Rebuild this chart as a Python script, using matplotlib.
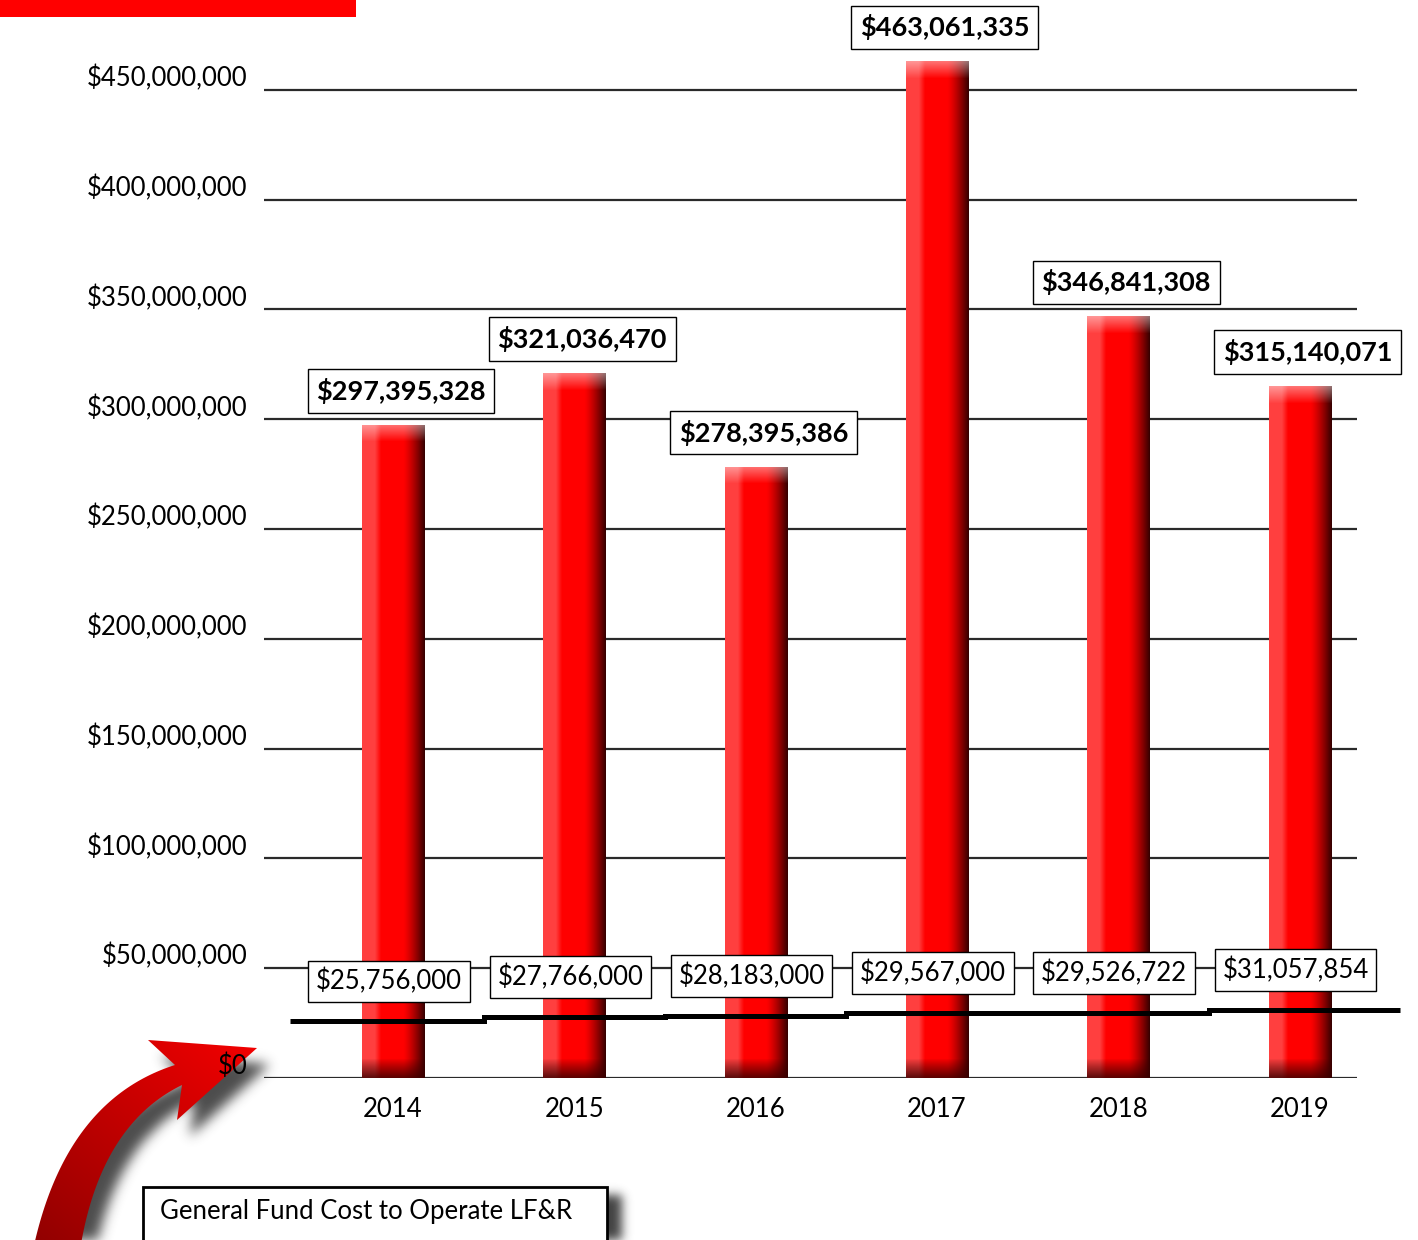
import numpy as np
import matplotlib
matplotlib.use("Agg")
import matplotlib.pyplot as plt
from matplotlib.patches import Rectangle, Polygon
from matplotlib.path import Path
from matplotlib.transforms import ScaledTranslation
from matplotlib.ticker import FuncFormatter

# ---- data ----
years = ["2014", "2015", "2016", "2017", "2018", "2019"]
total_cost = [297395328, 321036470, 278395386, 463061335, 346841308, 315140071]
general_fund = [25756000, 27766000, 28183000, 29567000, 29526722, 31057854]
y_ticks = [0, 50e6, 100e6, 150e6, 200e6, 250e6, 300e6, 350e6, 400e6, 450e6]
legend_text = "General Fund Cost to Operate LF&R"

W, H, DPI = 1418, 1240, 100
plt.rcParams['font.family'] = ['Lato', 'DejaVu Sans']
FS = 18.5

fig = plt.figure(figsize=(W / DPI, H / DPI), dpi=DPI)
fig.patch.set_facecolor('white')


def fx(px):
    return px / W


def fy(py):
    return 1 - py / H


# ---- main chart ----
ax = fig.add_axes([fx(264), fy(1078), (1357 - 264) / W, (1078 - 46) / H], zorder=2)
ax.patch.set_visible(False)
XLIM, YLIM = (-0.711, 5.317), (0, 470e6)
ax.set_xlim(*XLIM)
ax.set_ylim(*YLIM)
for s in ax.spines.values():
    s.set_visible(False)

ax.set_yticks(y_ticks)
ax.yaxis.set_major_formatter(FuncFormatter(lambda v, p: f"${v:,.0f}"))
ax.yaxis.grid(True, color='#2a2a2a', lw=1.6)
ax.set_axisbelow(True)
ax.tick_params(axis='y', length=0, pad=12, labelsize=FS, labelcolor='black')
x = np.arange(len(years))
ax.set_xticks(x, years)
ax.tick_params(axis='x', length=0, pad=14, labelsize=FS)

# lift the value labels so they sit above their gridline
shift = ScaledTranslation(0, 14 / DPI, fig.dpi_scale_trans)
for lbl in ax.get_yticklabels():
    lbl.set_transform(lbl.get_transform() + shift)


def bar_texture(h_px, w_px):
    """Glossy red column shading: light left edge, dark right edge, lit top, shaded base."""
    u = np.linspace(0, 1, w_px)
    base = np.zeros((w_px, 3))
    base[:, 0] = 1.0
    light = np.clip((0.30 - u) / 0.10, 0, 1)
    base[:, 1] += 0.25 * light
    base[:, 2] += 0.25 * light
    dark = np.clip((u - 0.66) / 0.34, 0, 1) ** 1.3
    base[:, 0] *= (1 - 0.78 * dark)
    img = np.repeat(base[None, :, :], h_px, axis=0)
    t = np.arange(h_px)[:, None, None].astype(float)
    # lit top cap
    f = 0.45 * np.clip(1 - t / 17.0, 0, 1)
    img = img * (1 - f) + f
    # shaded base
    g = 0.85 * np.clip((t - (h_px - 20)) / 20.0, 0, 1) ** 0.9
    img = img * (1 - g) + np.array([0.22, 0.0, 0.0]) * g
    return np.clip(img, 0, 1)


bars = ax.bar(x, total_cost, width=0.342, color='#ff0000', zorder=2)
for rect, v in zip(bars, total_cost):
    x0, w = rect.get_x(), rect.get_width()
    p0 = ax.transData.transform((x0, 0))
    p1 = ax.transData.transform((x0 + w, v))
    w_px = max(int(round(p1[0] - p0[0])), 2)
    h_px = max(int(round(p1[1] - p0[1])), 2)
    im = ax.imshow(bar_texture(h_px, w_px), extent=(x0, x0 + w, 0, v),
                   aspect='auto', origin='upper', zorder=2.1, interpolation='bilinear')
    im.set_clip_path(rect)

# stepped general fund line
edges = np.concatenate([[-0.568], x[:-1] + 0.5, [5.554]])
ax.stairs(general_fund, edges, baseline=None, color='black', lw=3.6,
          zorder=3, clip_on=False)

for i, v in enumerate(total_cost):
    ax.annotate(f"${v:,.0f}", xy=(i, v), xytext=(8, 34), textcoords='offset pixels',
                ha='center', va='center', fontsize=19.5, fontweight='bold', zorder=5,
                bbox=dict(boxstyle='square,pad=0.32', fc='white', ec='black', lw=1))

for i, v in enumerate(general_fund):
    ax.annotate(f"${v:,.0f}", xy=(i, v), xytext=(-4, 40), textcoords='offset pixels',
                ha='center', va='center', fontsize=FS, zorder=5,
                bbox=dict(boxstyle='square,pad=0.3', fc='white', ec='black', lw=1))

ax.set_xlim(*XLIM)
ax.set_ylim(*YLIM)

# ---- decorations in pixel space ----
ov = fig.add_axes([0, 0, 1, 1], zorder=1)
ov.set_xlim(0, W)
ov.set_ylim(H, 0)
ov.axis('off')

ov.add_patch(Rectangle((0, 0), 356, 17, fc='#ff0000', ec='none'))


def qbez(p0, c, p2, n=60):
    t = np.linspace(0, 1, n)[:, None]
    p0, c, p2 = map(np.asarray, (p0, c, p2))
    return (1 - t) ** 2 * p0 + 2 * (1 - t) * t * c + t ** 2 * p2


def blurred_mask(path, x0, x1, y0, y1, dx, dy, sigma):
    xs = np.arange(x0, x1) + 0.5
    ys = np.arange(y0, y1) + 0.5
    X, Y = np.meshgrid(xs - dx, ys - dy)
    m = path.contains_points(np.column_stack([X.ravel(), Y.ravel()])).reshape(X.shape)
    m = m.astype(float)
    r = int(3 * sigma)
    k = np.exp(-0.5 * (np.arange(-r, r + 1) / sigma) ** 2)
    k /= k.sum()
    m = np.apply_along_axis(lambda a: np.convolve(a, k, mode='same'), 1, m)
    m = np.apply_along_axis(lambda a: np.convolve(a, k, mode='same'), 0, m)
    return m


def draw_shadow(mask, x0, x1, y0, y1, alpha=0.85, z=1):
    rgba = np.zeros(mask.shape + (4,))
    rgba[..., :3] = 0.18
    rgba[..., 3] = np.clip(mask, 0, 1) * alpha
    ov.imshow(rgba, extent=(x0, x1, y1, y0), origin='upper', aspect='auto',
              interpolation='bilinear', zorder=z)


# curved pointer arrow
outer = qbez((33, 1250), (65, 1100), (175, 1065))
inner = qbez((80, 1250), (100, 1125), (182, 1085))
head = np.array([[148, 1040], [257, 1048], [177, 1120]])
arrow_pts = np.vstack([outer, head, inner[::-1]])
arrow_path = Path(arrow_pts, closed=False)

sm = blurred_mask(arrow_path, 0, 330, 1000, 1240, 13, 16, 6)
draw_shadow(sm, 0, 330, 1000, 1240, alpha=0.85, z=1)

gx = np.linspace(0, 1, 120)
gy = np.linspace(0, 1, 120)
GX, GY = np.meshgrid(gx, gy)
s = np.clip((GX + (1 - GY)) / 2, 0, 1)
grad = np.zeros((120, 120, 3))
grad[..., 0] = 0.55 + 0.42 * s
arrow_patch = Polygon(arrow_pts, closed=True, fc='none', ec='none', zorder=2)
ov.add_patch(arrow_patch)
aim = ov.imshow(grad, extent=(20, 265, 1250, 1030), origin='upper', aspect='auto',
                interpolation='bilinear', zorder=2)
aim.set_clip_path(arrow_patch)

# caption box with drop shadow
bx0, by0, bw, bh = 143, 1187, 464, 60
box_path = Path([[bx0, by0], [bx0 + bw, by0], [bx0 + bw, by0 + bh], [bx0, by0 + bh], [bx0, by0]])
lm = blurred_mask(box_path, 120, 680, 1160, 1240, 15, 8, 5)
draw_shadow(lm, 120, 680, 1160, 1240, alpha=0.9, z=1)
ov.add_patch(Rectangle((bx0, by0), bw, bh, fc='white', ec='black', lw=2, zorder=3))
ov.text(160, 1212, legend_text, fontsize=FS, ha='left', va='center', zorder=4)

ov.set_xlim(0, W)
ov.set_ylim(H, 0)

fig.savefig("out.png", dpi=DPI, facecolor='white')
